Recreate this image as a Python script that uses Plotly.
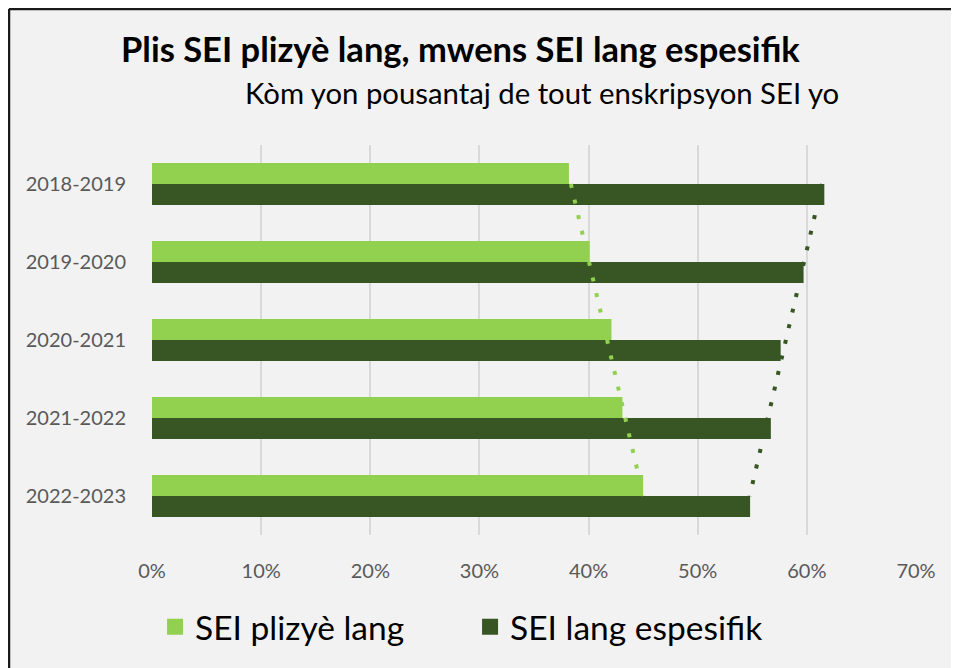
import numpy as np
import plotly.graph_objects as go

years = ["2018-2019", "2019-2020", "2020-2021", "2021-2022", "2022-2023"]
multi_lang = [0.382, 0.401, 0.421, 0.431, 0.450]
specific_lang = [0.616, 0.597, 0.576, 0.567, 0.548]
series_names = ["SEI plizyè lang", "SEI lang espesifik"]
x_ticks = [0, 0.1, 0.2, 0.3, 0.4, 0.5, 0.6, 0.7]
x_tick_labels = ["0%", "10%", "20%", "30%", "40%", "50%", "60%", "70%"]

LIGHT = "#92D050"
DARK = "#375623"
BG = "#F2F2F2"
FONT = "Lato"

idx = np.arange(len(years))
trend_multi = np.polyval(np.polyfit(idx, multi_lang, 1), idx)
trend_spec = np.polyval(np.polyfit(idx, specific_lang, 1), idx)

fig = go.Figure()
fig.add_trace(go.Bar(y=years, x=multi_lang, orientation="h", marker_color=LIGHT,
                     marker_line_width=0, name=series_names[0], showlegend=False))
fig.add_trace(go.Bar(y=years, x=specific_lang, orientation="h", marker_color=DARK,
                     marker_line_width=0, name=series_names[1], showlegend=False))
fig.add_trace(go.Scatter(y=years, x=trend_multi, mode="lines",
                         line=dict(color=LIGHT, width=4, dash="4px,12px"),
                         showlegend=False, hoverinfo="skip"))
fig.add_trace(go.Scatter(y=years, x=trend_spec, mode="lines",
                         line=dict(color=DARK, width=4, dash="4px,12px"),
                         showlegend=False, hoverinfo="skip"))
# legend entries
for name, col in zip(series_names, [LIGHT, DARK]):
    fig.add_trace(go.Scatter(y=[None], x=[None], mode="markers", name=name,
                             marker=dict(symbol="square", size=20, color=col)))

frame_x = (1 - 144) / 764
frame_y = (527 - 1) / 390

fig.update_layout(
    width=959, height=668,
    paper_bgcolor=BG, plot_bgcolor=BG,
    margin=dict(l=144, r=51, t=137, b=141),
    barmode="group", bargap=0.46, bargroupgap=0,
    font=dict(family=FONT, color="#595959"),
    xaxis=dict(range=[0, 0.7], tickvals=x_ticks, ticktext=x_tick_labels,
               showgrid=True, gridcolor="#D9D9D9", gridwidth=2, zeroline=False,
               tickfont=dict(size=20, color="#595959"), ticks="outside", ticklen=18,
               tickcolor=BG, showline=False, fixedrange=True),
    yaxis=dict(autorange="reversed", type="category", showgrid=False, zeroline=False,
               tickfont=dict(size=20, color="#595959"), ticks="outside", ticklen=21,
               tickcolor=BG, showline=False),
    legend=dict(orientation="h", x=0.004, xanchor="left", y=-0.236, yanchor="middle",
                font=dict(size=33.5, color="#000000", family=FONT),
                entrywidth=270, entrywidthmode="pixels", bgcolor="rgba(0,0,0,0)"),
    showlegend=True,
    shapes=[
        dict(type="line", xref="paper", yref="paper", x0=frame_x, x1=frame_x,
             y0=-0.5, y1=frame_y, line=dict(color="#1a1a1a", width=2.5), layer="below"),
        dict(type="line", xref="paper", yref="paper", x0=frame_x, x1=1.2,
             y0=frame_y, y1=frame_y, line=dict(color="#1a1a1a", width=2.5), layer="below"),
    ],
    annotations=[
        dict(text="<b>Plis SEI plizyè lang, mwens SEI lang espesifik</b>",
             xref="paper", yref="paper", x=(119 - 152) / 764, y=(535 - 48) / 390,
             xanchor="left", yanchor="middle", showarrow=False,
             font=dict(size=34.5, color="#000000", family=FONT)),
        dict(text="Kòm yon pousantaj de tout enskripsyon SEI yo",
             xref="paper", yref="paper", x=(243 - 152) / 764, y=(535 - 92) / 390,
             xanchor="left", yanchor="middle", showarrow=False,
             font=dict(size=29.3, color="#000000", family=FONT)),
    ],
)

fig.write_html("out.html")
